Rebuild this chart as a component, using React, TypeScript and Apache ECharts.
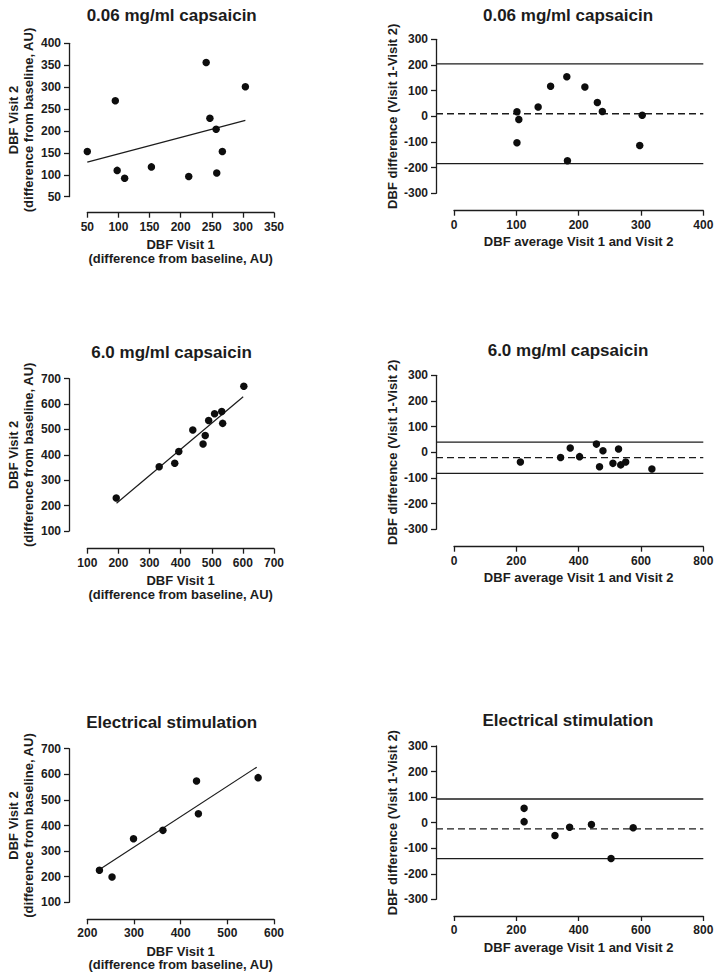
import React, { useEffect, useRef } from 'react';
import * as echarts from 'echarts';

// ---------- data ----------
// 0.06 mg/ml capsaicin
const lowVisit1 = [50, 95, 98, 110, 153, 213, 241, 247, 257, 258, 267, 304];
const lowVisit2 = [153, 269, 110, 92, 118, 96, 356, 229, 204, 104, 153, 301];
const lowFit = [[50, 129], [304, 224]];
const lowAvg = [101, 182, 104, 101, 135, 155, 298, 238, 230, 181, 210, 302];
const lowDiff = [-103, -173, -12, 18, 36, 117, -114, 19, 54, 154, 114, 4];
const lowLimits = [204, 10, -184]; // upper, mean, lower

// 6.0 mg/ml capsaicin
const highVisit1 = [193, 331, 381, 394, 439, 472, 479, 490, 509, 532, 535, 603];
const highVisit2 = [230, 353, 367, 413, 498, 443, 476, 535, 562, 571, 524, 670];
const highFit = [[194, 209], [601, 629]];
const highAvg = [213, 342, 373, 403, 467, 457, 478, 510, 535, 551, 528, 635];
const highDiff = [-38, -20, 17, -17, -56, 32, 6, -43, -49, -38, 13, -65];
const highLimits = [40, -21, -82];

// Electrical stimulation
const elecVisit1 = [226, 253, 299, 362, 434, 438, 566];
const elecVisit2 = [225, 199, 348, 381, 574, 446, 587];
const elecFit = [[227, 229], [563, 628]];
const elecAvg = [225, 225, 324, 371, 504, 441, 575];
const elecDiff = [4, 56, -50, -18, -140, -7, -20];
const elecLimits = [92.5, -24, -140.5];

const titles = ['0.06 mg/ml capsaicin', '6.0 mg/ml capsaicin', 'Electrical stimulation'];

// ---------- styling / layout ----------
const FONT = '"Liberation Sans", Arial, Helvetica, sans-serif';
const INK = '#1c1c1c';

const zip = (a: number[], b: number[]) => a.map((v, i) => [v, b[i]]);

const scatterPanels = [
  { title: titles[0], x: lowVisit1, y: lowVisit2, fit: lowFit, grid: { left: 87.3, top: 43.3, width: 186.7, height: 153.4 }, xr: [50, 350, 50], yr: [50, 400, 50], xOff: 16, yOff: 18.3, tpos: [171.7, 15.7] },
  { title: titles[1], x: highVisit1, y: highVisit2, fit: highFit, grid: { left: 87.3, top: 378.7, width: 186.7, height: 152.3 }, xr: [100, 700, 100], yr: [100, 700, 100], xOff: 17.7, yOff: 18.3, tpos: [171.5, 352.3] },
  { title: titles[2], x: elecVisit1, y: elecVisit2, fit: elecFit, grid: { left: 87.3, top: 748.7, width: 186.7, height: 153.6 }, xr: [200, 600, 100], yr: [100, 700, 100], xOff: 17, yOff: 18.3, tpos: [171.7, 722.3] },
];

const baPanels = [
  { title: titles[0], x: lowAvg, y: lowDiff, lim: lowLimits, grid: { left: 454, top: 39.3, width: 249.3, height: 154 }, xr: [0, 400, 100], xOff: 17.4, yOff: 18, tpos: [568, 15.3] },
  { title: titles[1], x: highAvg, y: highDiff, lim: highLimits, grid: { left: 454, top: 375.3, width: 249.3, height: 154 }, xr: [0, 800, 200], xOff: 17.4, yOff: 18, tpos: [568, 350] },
  { title: titles[2], x: elecAvg, y: elecDiff, lim: elecLimits, grid: { left: 454, top: 746, width: 249.3, height: 153.3 }, xr: [0, 800, 200], xOff: 16.7, yOff: 18, tpos: [568, 720] },
];

const lineStyle = { color: INK, width: 1.3 };
const labelStyle = { color: INK, fontSize: 12, fontWeight: 'bold' as const, fontFamily: FONT };
const nameStyle = (lh: number) => ({ color: INK, fontSize: 13, fontWeight: 'bold' as const, fontFamily: FONT, lineHeight: lh });
const dotStyle = { color: '#0d0d0d', opacity: 1 };

function visAxis(gridIndex: number, r: number[], offset: number, name: string, nameGap: number, isY: boolean, lh: number) {
  return {
    type: 'value',
    gridIndex,
    min: r[0],
    max: r[1],
    interval: r[2],
    offset,
    position: isY ? 'left' : 'bottom',
    axisLine: { show: true, onZero: false, lineStyle },
    axisTick: { show: true, inside: false, length: 5, lineStyle },
    axisLabel: { ...labelStyle, margin: 8, showMinLabel: true, showMaxLabel: true },
    splitLine: { show: false },
    name,
    nameLocation: 'middle',
    nameGap,
    nameRotate: isY ? 90 : 0,
    nameTextStyle: nameStyle(lh),
  };
}

function buildOption() {
  const grid: any[] = [];
  const xAxis: any[] = [];
  const yAxis: any[] = [];
  const series: any[] = [];
  const graphic: any[] = [];

  const addTitle = (text: string, pos: number[]) => {
    graphic.push({
      type: 'text',
      x: pos[0],
      y: pos[1],
      style: { text, fill: INK, font: `bold 17px ${FONT}`, align: 'center', verticalAlign: 'middle' },
    });
  };

  scatterPanels.forEach((p) => {
    const g = grid.length;
    grid.push({ ...p.grid, containLabel: false, outerBoundsMode: 'none' });
    xAxis.push(visAxis(g, p.xr, p.xOff, 'DBF Visit 1\n(difference from baseline, AU)', 25, false, 13.8));
    yAxis.push(visAxis(g, p.yr, p.yOff, 'DBF Visit 2\n(difference from baseline, AU)', 33.5, true, 15));
    const ai = xAxis.length - 1;
    series.push({
      type: 'line', xAxisIndex: ai, yAxisIndex: ai, data: p.fit, symbol: 'none', silent: true, z: 2,
      lineStyle: { color: INK, width: 1.2 },
    });
    series.push({
      type: 'scatter', xAxisIndex: ai, yAxisIndex: ai, data: zip(p.x, p.y), symbol: 'circle', symbolSize: 7.5, silent: true, z: 3,
      itemStyle: dotStyle,
    });
    addTitle(p.title, p.tpos);
  });

  baPanels.forEach((p) => {
    const g = grid.length;
    grid.push({ ...p.grid, containLabel: false, outerBoundsMode: 'none' });
    xAxis.push(visAxis(g, p.xr, p.xOff, 'DBF average Visit 1 and Visit 2', 23.5, false, 15));
    yAxis.push(visAxis(g, [-300, 300, 100], p.yOff, 'DBF difference (Visit 1-Visit 2)', 36, true, 15));
    const ai = xAxis.length - 1;
    series.push({
      type: 'scatter', xAxisIndex: ai, yAxisIndex: ai, data: zip(p.x, p.y), symbol: 'circle', symbolSize: 7.5, silent: true, z: 3,
      itemStyle: dotStyle,
    });
    // overlay grid spanning from the offset y-axis line to the right end, for the agreement lines
    const g2 = grid.length;
    grid.push({ left: p.grid.left - p.yOff, top: p.grid.top, width: p.grid.width + p.yOff, height: p.grid.height, containLabel: false, outerBoundsMode: 'none' });
    xAxis.push({ type: 'value', gridIndex: g2, min: 0, max: 1, show: false });
    yAxis.push({ type: 'value', gridIndex: g2, min: -300, max: 300, show: false });
    const oi = xAxis.length - 1;
    p.lim.forEach((v, k) => {
      series.push({
        type: 'line', xAxisIndex: oi, yAxisIndex: oi, data: [[0, v], [1, v]], symbol: 'none', silent: true, z: 2,
        lineStyle: { color: INK, width: 1.3, type: k === 1 ? [7, 4] : 'solid' },
      });
    });
    addTitle(p.title, p.tpos);
  });

  return {
    animation: false,
    backgroundColor: '#ffffff',
    textStyle: { fontFamily: FONT },
    grid,
    xAxis,
    yAxis,
    series,
    graphic,
  };
}

export default function App() {
  const ref = useRef<HTMLDivElement>(null);
  useEffect(() => {
    if (!ref.current) return;
    const chart = echarts.init(ref.current, null, { renderer: 'svg' });
    chart.setOption(buildOption() as any);
    return () => chart.dispose();
  }, []);
  return (
    <div
      ref={ref}
      style={{ position: 'absolute', left: 0, top: 0, width: 715, height: 972, background: '#fff' }}
    />
  );
}
